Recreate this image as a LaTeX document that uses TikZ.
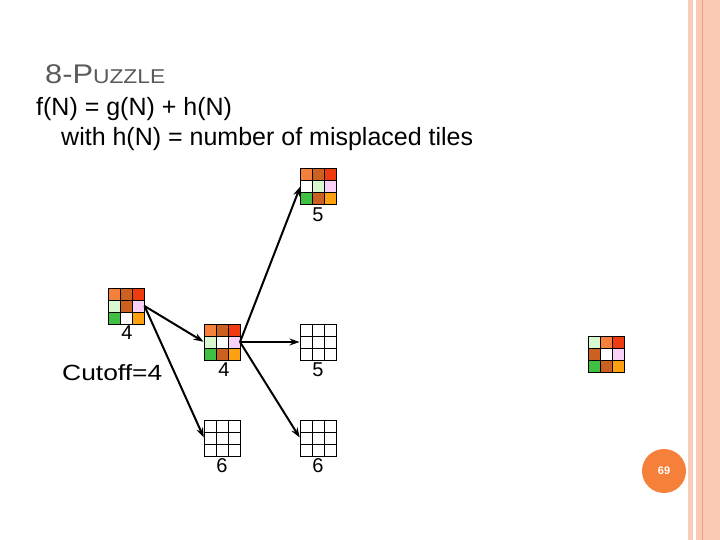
\documentclass[tikz,border=0pt]{standalone}
\usepackage{fontspec}
\setmainfont{Liberation Sans}
\usetikzlibrary{arrows.meta,calc}
\definecolor{ca}{HTML}{F4803C}
\definecolor{cb}{HTML}{CC6020}
\definecolor{cc}{HTML}{F03A10}
\definecolor{lg}{HTML}{D8F8D0}
\definecolor{pk}{HTML}{F8D0F8}
\definecolor{gr}{HTML}{40C040}
\definecolor{og}{HTML}{FFA010}
\definecolor{wh}{HTML}{FFFFFF}
\definecolor{titlegray}{HTML}{5A5A5A}
\definecolor{bordA}{HTML}{F9CBB8}
\definecolor{bordB}{HTML}{FBCAB4}
\definecolor{bordLine}{HTML}{EE9E7E}
\definecolor{pagecirc}{HTML}{F5803A}
\tikzset{
  gridbox/.style={draw=none,minimum size=36pt,inner sep=0pt,outer sep=0pt},
  lbl/.style={font=\fontsize{20}{24}\selectfont,inner sep=0pt},
  conn/.style={-{Stealth[length=10pt,width=7pt]},line width=2pt,shorten >=0.5pt}
}
\newcommand\pzgrid[3]{%
  \node[gridbox] (#1) at (#2) {};
  \foreach \cl [count=\i from 0] in {#3} {
    \pgfmathtruncatemacro\col{mod(\i,3)}
    \pgfmathtruncatemacro\row{floor(\i/3)}
    \fill[\cl] ($(#1.north west)+(\col*12pt,-\row*12pt)$) rectangle +(12pt,-12pt);
  }
  \draw[line width=0.9pt] (#1.north west) grid[step=12pt] (#1.south east);
  \draw[line width=0.9pt] (#1.north west) rectangle (#1.south east);
}
\begin{document}
\begin{tikzpicture}[x=1pt,y=-1pt]
\useasboundingbox (0,0) rectangle (720,540);
% right border
\fill[bordA] (688,0) rectangle (692.5,540);
\fill[bordB] (696,0) rectangle (720,540);
\draw[bordLine,line width=0.8pt] (702.3,0) -- (702.3,540);
% titles
\node[anchor=base west,inner sep=0pt,text=titlegray] (title) at (45,84)
  {\scalebox{1.14}[1]{\fontsize{27}{30}\selectfont 8-P\fontsize{20}{24}\selectfont UZZLE}};
\node[anchor=base west,inner sep=0pt] (f1) at (36,116)
  {\fontsize{25}{28}\selectfont f(N) = g(N) + h(N)};
\node[anchor=base west,inner sep=0pt] (f2) at (61,146)
  {\fontsize{25}{28}\selectfont with h(N) = number of misplaced tiles};
% grids
\pzgrid{top}{318.5,186}{ca,cb,cc,wh,lg,pk,gr,cb,og}
\pzgrid{left}{126.5,306}{ca,cb,cc,lg,cb,pk,gr,wh,og}
\pzgrid{mid}{222,342}{ca,cb,cc,lg,wh,pk,gr,cb,og}
\pzgrid{mr}{318,342}{wh,wh,wh,wh,wh,wh,wh,wh,wh}
\pzgrid{bl}{222,438}{wh,wh,wh,wh,wh,wh,wh,wh,wh}
\pzgrid{br}{318,438}{wh,wh,wh,wh,wh,wh,wh,wh,wh}
\pzgrid{far}{606,354}{lg,ca,cc,cb,wh,pk,gr,cb,og}
% labels
\node[lbl] (ltop) at (318,215) {5};
\node[lbl] (lleft) at (127,333) {4};
\node[lbl] (lmid) at (224,370) {4};
\node[lbl] (lmr) at (318,370) {5};
\node[lbl] (lbl6a) at (222,466) {6};
\node[lbl] (lbl6b) at (318,466) {6};
\node[inner sep=0pt,anchor=west] (cut) at (62,373) {\scalebox{1.2}[1]{\fontsize{22}{26}\selectfont Cutoff=4}};
% connectors
\draw[conn] (left.east) -- (mid.west);
\draw[conn] (left.east) -- (bl.west);
\draw[conn] (mid.east) -- (top.west);
\draw[conn] (mid.east) -- (mr.west);
\draw[conn] (mid.east) -- (br.west);
% page number
\node[circle,fill=pagecirc,minimum size=44pt,inner sep=0pt,text=white,font=\bfseries\fontsize{11}{13}\selectfont] (pg) at (664,471) {69};
\end{tikzpicture}
\end{document}
